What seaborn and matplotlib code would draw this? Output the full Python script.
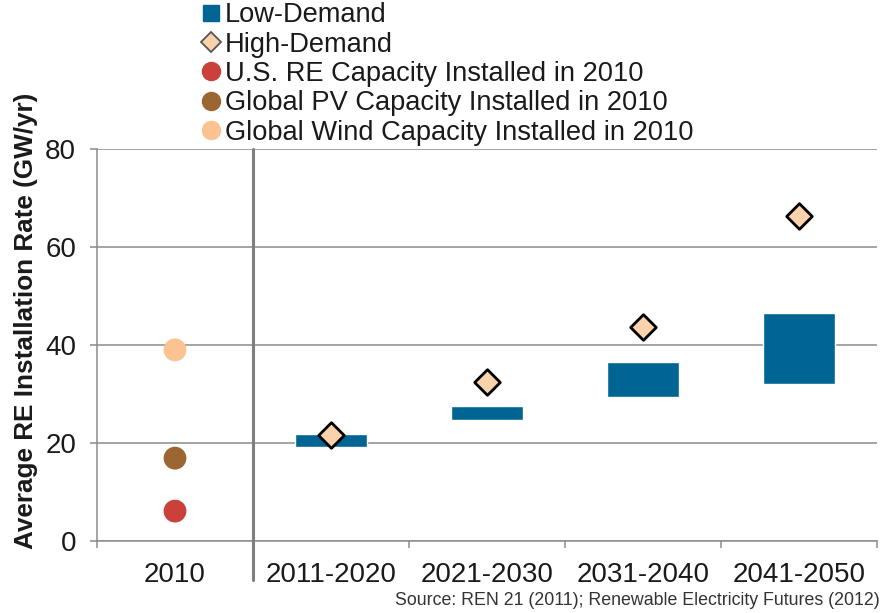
import matplotlib
matplotlib.use("Agg")
import matplotlib.pyplot as plt
from matplotlib.lines import Line2D
import seaborn as sns
import pandas as pd

# Categories on the x axis
periods = ["2010", "2011-2020", "2021-2030", "2031-2040", "2041-2050"]

# 2010 reference points (GW/yr)
ref_labels = ["U.S. RE Capacity Installed in 2010",
              "Global PV Capacity Installed in 2010",
              "Global Wind Capacity Installed in 2010"]
ref_values = [6.1, 16.9, 39.0]
ref_colors = ["#C9413A", "#9C6633", "#FBC392"]

# Low-Demand scenario range (floating bars: low / high)
low_periods = ["2011-2020", "2021-2030", "2031-2040", "2041-2050"]
low_min = [19.2, 24.6, 29.4, 32.1]
low_max = [21.8, 27.6, 36.5, 46.5]

# High-Demand scenario values
high_values = [21.6, 32.5, 43.7, 66.3]

y_ticks = [0, 20, 40, 60, 80]

BAR_COLOR = "#006592"
DIAMOND_FILL = "#FAD2AC"
GRID = "#8C8C8C"
TEXT = "#1A1A1A"

sns.set_theme(style="white")
plt.rcParams["font.family"] = ["Liberation Sans", "DejaVu Sans"]

fig = plt.figure(figsize=(8.85, 6.13), dpi=100)
ax = fig.add_axes([0.1096, 0.1175, 0.8814, 0.6395])

pos = {p: i for i, p in enumerate(periods)}

# Floating bars for the Low-Demand range
low_df = pd.DataFrame({"period": low_periods, "lo": low_min, "hi": low_max})
ax.bar([pos[p] for p in low_df["period"]], low_df["hi"] - low_df["lo"],
       bottom=low_df["lo"], width=0.46, color=BAR_COLOR, zorder=3)

# High-Demand diamonds
high_df = pd.DataFrame({"x": [pos[p] for p in low_periods], "y": high_values})
sns.scatterplot(data=high_df, x="x", y="y", ax=ax, marker="D", s=170,
                color=DIAMOND_FILL, edgecolor="black", linewidth=2.0,
                zorder=4, legend=False)

# 2010 installed capacity dots
ref_df = pd.DataFrame({"x": [pos["2010"]] * 3, "y": ref_values, "lab": ref_labels})
sns.scatterplot(data=ref_df, x="x", y="y", hue="lab", palette=ref_colors,
                hue_order=ref_labels, ax=ax, s=270, linewidth=0,
                zorder=4, legend=False)

# Axes styling
ax.set_xlim(-0.5, len(periods) - 0.5)
ax.set_ylim(0, 80)
ax.set_yticks(y_ticks)
ax.set_xticks(range(len(periods)))
ax.set_xticklabels(periods)
ax.set_xticks([i - 0.5 for i in range(len(periods) + 1)], minor=True)
ax.grid(axis="y", color=GRID, linewidth=1.1, zorder=0)
ax.set_axisbelow(True)
for side in ["top", "right"]:
    ax.spines[side].set_visible(False)
for side in ["left", "bottom"]:
    ax.spines[side].set_color(GRID)
    ax.spines[side].set_linewidth(1.1)

ax.tick_params(axis="y", which="major", length=5, width=1.1, color=GRID,
               pad=10, labelsize=20, labelcolor=TEXT, left=True)
ax.tick_params(axis="x", which="major", length=0, pad=15, labelsize=20,
               labelcolor=TEXT)
ax.tick_params(axis="x", which="minor", length=5, width=1.1, color=GRID,
               bottom=True)

# Separator between the historical year and the projections
ax.axvline(0.5, ymin=-0.1, ymax=1.0, color="#7F7F7F", linewidth=2.2,
           clip_on=False, zorder=5)

ax.set_xlabel("")
ax.set_ylabel("Average RE Installation Rate (GW/yr)", fontsize=18.8,
              fontweight="bold", color=TEXT)
ax.yaxis.set_label_coords(-0.076, 0.561)

# Legend above the plot
handles = [
    Line2D([], [], linestyle="none", marker="s", markersize=11,
           markerfacecolor=BAR_COLOR, markeredgecolor=BAR_COLOR),
    Line2D([], [], linestyle="none", marker="D", markersize=10,
           markerfacecolor=DIAMOND_FILL, markeredgecolor="#555555",
           markeredgewidth=1.3),
] + [
    Line2D([], [], linestyle="none", marker="o", markersize=13,
           markerfacecolor=c, markeredgecolor=c)
    for c in ref_colors
]
labels = ["Low-Demand", "High-Demand"] + ref_labels
fig.legend(handles, labels, loc="upper left", bbox_to_anchor=(0.2262, 0.996),
           frameon=False, fontsize=19.6, handlelength=0.8, handletextpad=0.11,
           labelspacing=0.12, borderpad=0.0, borderaxespad=0.0,
           labelcolor=TEXT)

fig.text(0.994, 0.021, "Source: REN 21 (2011); Renewable Electricity Futures (2012)",
         ha="right", va="center", fontsize=12.75, color="#333333")

fig.savefig("out.png", dpi=100)
